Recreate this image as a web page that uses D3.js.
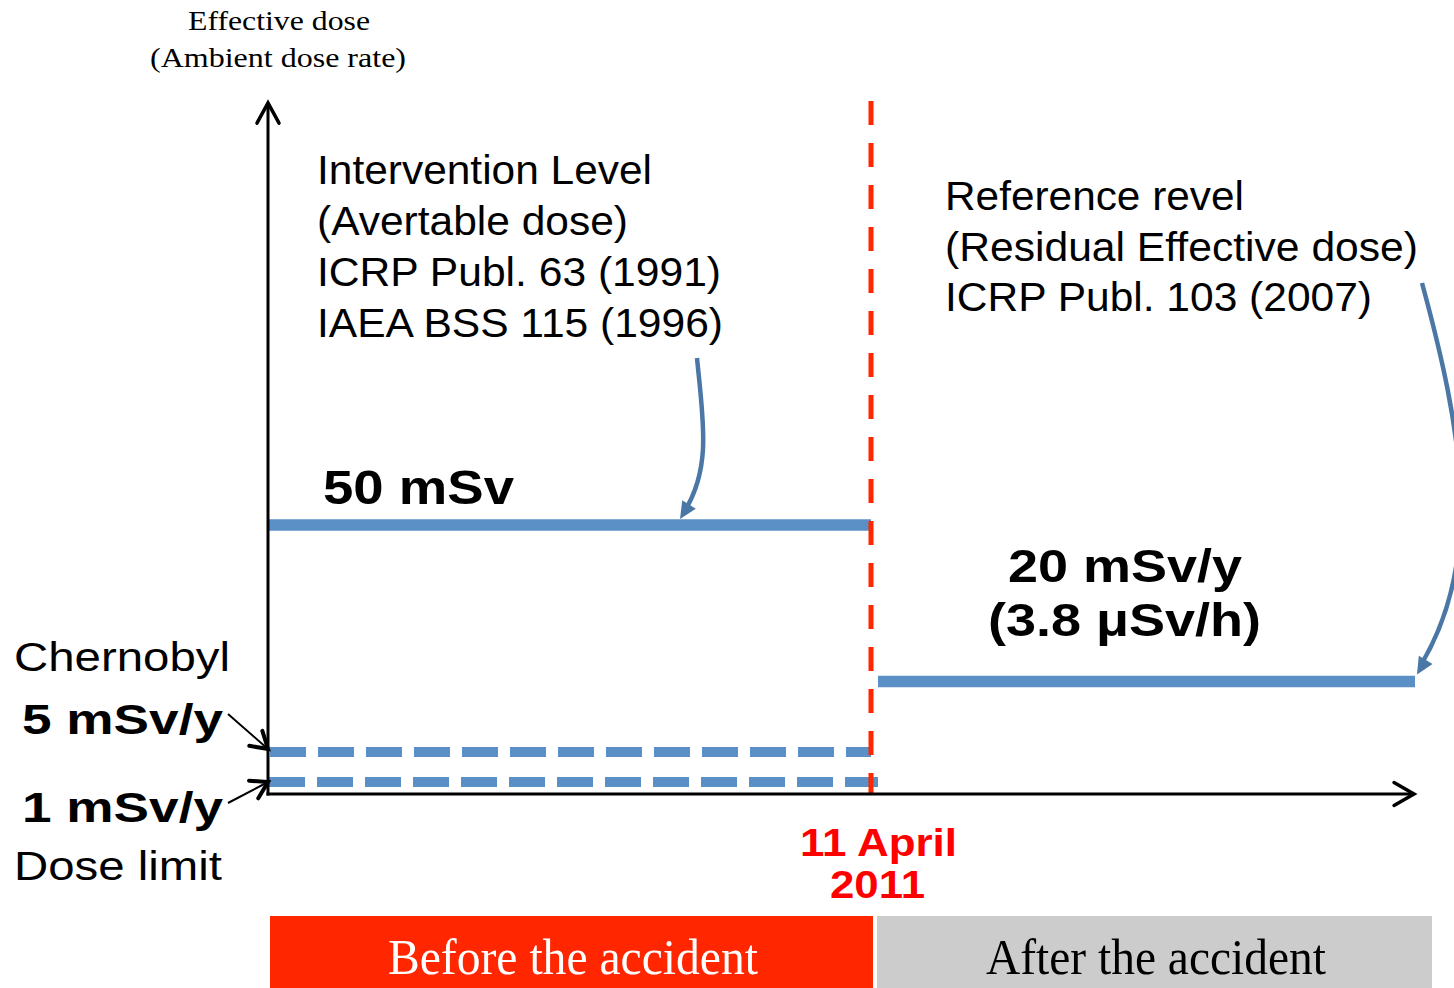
<!DOCTYPE html>
<html>
<head>
<meta charset="utf-8">
<script src="https://cdn.jsdelivr.net/npm/d3@7"></script>
<style>
  html, body { margin: 0; padding: 0; background: #ffffff; }
  svg { display: block; }
</style>
</head>
<body>
<svg id="chart" width="1454" height="988"></svg>
<script>
// ---------------- data ----------------
const periods = ["Before the accident", "After the accident"];
const periodBreaks = [0, 1, 2];                 // period boundaries on the (schematic) time axis
const levelNames = ["Intervention level", "Reference level", "Chernobyl", "Dose limit"];
const levelValues = [50, 20, 5, 1];             // mSv
const levelPeriod = [0, 1, 0, 0];               // index into periods
const levelLabels = ["50 mSv", "20 mSv/y", "5 mSv/y", "1 mSv/y"];
const referenceSubLabel = "(3.8 μSv/h)";
const dateLabel = ["11 April", "2011"];
const yAxisTitle = ["Effective dose", "(Ambient dose rate)"];
const interventionNotes = ["Intervention Level", "(Avertable dose)", "ICRP Publ. 63 (1991)", "IAEA BSS 115 (1996)"];
const referenceNotes = ["Reference revel", "(Residual Effective dose)", "ICRP Publ. 103 (2007)"];
const sideNotes = ["Chernobyl", "Dose limit"];

// ---------------- scales ----------------
const svg = d3.select("#chart");
const x = d3.scaleLinear().domain(periodBreaks).range([268, 871, 1415]);
const xBox = d3.scaleLinear().domain(periodBreaks).range([270, 875, 1432]);
// schematic (non-linear) dose axis
const y = d3.scaleLinear().domain([0, 1, 5, 20, 50]).range([794, 782, 752, 681.5, 525]);
const yTop = 103;

const SANS = "'Liberation Sans', Arial, sans-serif";
const SERIF = "'Liberation Serif', 'Times New Roman', serif";
const BLUE = "#5b90c7";
const ARROW_BLUE = "#4a77a5";
const RED = "#ff2600";

function text(str, xx, yy, o) {
  const t = svg.append("text")
    .attr("x", xx).attr("y", yy)
    .attr("font-family", o.family || SANS)
    .attr("font-size", o.size)
    .attr("font-weight", o.weight || "normal")
    .attr("fill", o.fill || "#000")
    .attr("text-anchor", o.anchor || "start")
    .text(str);
  if (o.len) t.attr("textLength", o.len).attr("lengthAdjust", "spacingAndGlyphs");
  return t;
}

// ---------------- period boxes ----------------
const boxFill = [RED, "#cccccc"];
const boxText = ["#ffffff", "#000000"];
const boxTextLen = [370, 340];
svg.selectAll("rect.period").data(periods).enter().append("rect")
  .attr("class", "period")
  .attr("x", (d, i) => xBox(i) + (i ? 2 : 0))
  .attr("y", 916)
  .attr("width", (d, i) => xBox(i + 1) - xBox(i) - 2)
  .attr("height", 72)
  .attr("fill", (d, i) => boxFill[i]);
periods.forEach((p, i) => {
  const cx = i === 0 ? 573 : 1156;
  text(p, cx, 974, { family: SERIF, size: 50, fill: boxText[i], anchor: "middle", len: boxTextLen[i] });
});

// ---------------- level lines ----------------
const levels = levelValues.map((v, i) => ({ v, name: levelNames[i], period: levelPeriod[i], label: levelLabels[i] }));
levels.forEach(d => {
  const dashed = d.name === "Chernobyl" || d.name === "Dose limit";
  let x1 = d.period === 0 ? x(0) + (dashed ? 2 : 0) : x(1) + 7;
  let x2 = d.period === 0 ? x(1) : x(2);
  if (d.name === "Dose limit") { x1 = x(0) + 1; x2 = x(1) + 7; }
  svg.append("line")
    .attr("x1", x1).attr("x2", x2)
    .attr("y1", y(d.v)).attr("y2", y(d.v))
    .attr("stroke", BLUE)
    .attr("stroke-width", dashed ? 10 : 11.5)
    .attr("stroke-dasharray", dashed ? "36,12" : null);
});

// ---------------- accident date (red dashed) ----------------
svg.append("line")
  .attr("x1", x(1)).attr("x2", x(1))
  .attr("y1", 101).attr("y2", y(0) + 1)
  .attr("stroke", RED).attr("stroke-width", 5)
  .attr("stroke-dasharray", "24,18");

// ---------------- axes ----------------
const xAxis = d3.axisBottom(x).ticks(0).tickSize(0).tickSizeOuter(0).tickFormat("");
const gx = svg.append("g").attr("transform", `translate(0,${y(0)})`).call(xAxis);
gx.select(".domain").attr("stroke", "#000").attr("stroke-width", 3)
  .attr("d", `M${x(0) - 1.5},0H${x(2) - 2}`);
const yAxisScale = d3.scaleLinear().domain([0, 1]).range([y(0), yTop]);
const yAxis = d3.axisLeft(yAxisScale).ticks(0).tickSize(0).tickSizeOuter(0).tickFormat("");
const gy = svg.append("g").attr("transform", `translate(${x(0)},0)`).call(yAxis);
gy.select(".domain").attr("stroke", "#000").attr("stroke-width", 3)
  .attr("d", `M0,${y(0) + 1.5}V${yTop + 1}`);

function chevron(tx, ty, ang, len, spread, w) {
  const a1 = ang + Math.PI - spread, a2 = ang + Math.PI + spread;
  svg.append("path")
    .attr("d", `M${tx + len * Math.cos(a1)},${ty + len * Math.sin(a1)}L${tx},${ty}L${tx + len * Math.cos(a2)},${ty + len * Math.sin(a2)}`)
    .attr("fill", "none").attr("stroke", "#000").attr("stroke-width", w)
    .attr("stroke-linecap", "round").attr("stroke-linejoin", "miter");
}
chevron(x(0), yTop, -Math.PI / 2, 23, 0.5, 3.5);
chevron(x(2) - 1, y(0), 0, 23, 0.52, 3.5);

// ---------------- pointer arrows ----------------
function pointer(x0, y0, tx, ty) {
  const ang = Math.atan2(ty - y0, tx - x0);
  svg.append("line").attr("x1", x0).attr("y1", y0).attr("x2", tx).attr("y2", ty)
    .attr("stroke", "#000").attr("stroke-width", 2);
  chevron(tx, ty, ang, 19, 0.55, 4);
}
pointer(228, 714, x(0), y(5) - 3);
pointer(228, 803, x(0), y(1));

function curvedArrow(d, cx2, cy2, tx, ty) {
  svg.append("path").attr("d", d)
    .attr("fill", "none").attr("stroke", ARROW_BLUE).attr("stroke-width", 4.5);
  const ang = Math.atan2(ty - cy2, tx - cx2);
  const L = 17, W = 8;
  const bx = tx - L * Math.cos(ang), by = ty - L * Math.sin(ang);
  const px = -Math.sin(ang) * W, py = Math.cos(ang) * W;
  svg.append("path")
    .attr("d", `M${tx},${ty}L${bx + px},${by + py}L${bx - px},${by - py}Z`)
    .attr("fill", ARROW_BLUE);
}
// intervention note -> 50 mSv line
{
  const tx = 680, ty = y(50) - 6;
  curvedArrow(`M697,358C703,420 712,468 ${tx + 4},${ty - 7}`, 712, 468, tx, ty);
}
// reference note -> 20 mSv/y line
{
  const tx = 1417, ty = y(20) - 7;
  curvedArrow(`M1422,283C1462,430 1485,560 ${tx + 3},${ty - 8}`, 1485, 560, tx, ty);
}

// ---------------- texts ----------------
text(yAxisTitle[0], 188, 30, { family: SERIF, size: 28, len: 182 });
text(yAxisTitle[1], 150, 67, { family: SERIF, size: 28, len: 256 });

const intLens = [335, 311, 404, 406];
interventionNotes.forEach((s, i) => text(s, 317, 184 + i * 51, { size: 41, len: intLens[i] }));
const refLens = [299, 473, 427];
referenceNotes.forEach((s, i) => text(s, 945, 210 + i * 50.5, { size: 40, len: refLens[i] }));

text(levelLabels[0], 323, 504, { size: 48, weight: "bold", len: 191 });
text(levelLabels[1], 1008, 582, { size: 46, weight: "bold", len: 234 });
text(referenceSubLabel, 988, 636, { size: 46, weight: "bold", len: 273 });

text(sideNotes[0], 14, 671, { size: 41, len: 216 });
text(levelLabels[2], 22, 734, { size: 42, weight: "bold", len: 201 });
text(levelLabels[3], 22, 822, { size: 42, weight: "bold", len: 201 });
text(sideNotes[1], 14, 880, { size: 41, len: 208 });

text(dateLabel[0], 800, 856, { size: 39, weight: "bold", fill: "#ff0000", len: 157 });
text(dateLabel[1], 830, 898, { size: 39, weight: "bold", fill: "#ff0000", len: 95 });
</script>
</body>
</html>
